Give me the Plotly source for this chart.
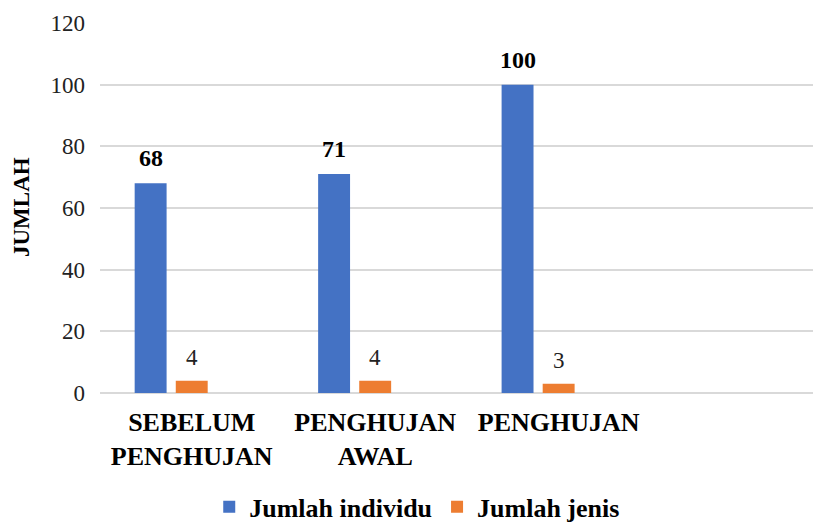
import plotly.graph_objects as go

categories = ["SEBELUM<br>PENGHUJAN", "PENGHUJAN<br>AWAL", "PENGHUJAN"]
individu = [68, 71, 100]
jenis = [4, 4, 3]
y_ticks = [0, 20, 40, 60, 80, 100, 120]

xpos = list(range(len(categories)))
FONT = "Liberation Serif"
BLUE = "#4472C4"
ORANGE = "#ED7D31"

fig = go.Figure()
fig.add_trace(go.Bar(x=xpos, y=individu, name="<b>Jumlah individu</b>", marker_color=BLUE,
                     width=0.174, offset=-0.311, marker_line_width=0))
fig.add_trace(go.Bar(x=xpos, y=jenis, name="<b>Jumlah jenis</b>", marker_color=ORANGE,
                     width=0.174, offset=-0.087, marker_line_width=0))

for i, v in enumerate(individu):
    fig.add_annotation(x=xpos[i] - 0.224, y=v, text=f"<b>{v}</b>", showarrow=False,
                       yanchor="bottom", yshift=10, font=dict(family=FONT, size=24, color="black"))
for i, v in enumerate(jenis):
    fig.add_annotation(x=xpos[i] + 0.0, y=v, text=str(v), showarrow=False,
                       yanchor="bottom", yshift=9, font=dict(family=FONT, size=23, color="#222"))

fig.add_annotation(xref="paper", yref="paper", x=(21 - 100) / 721, y=(393 - 207) / 370,
                   text="<b>JUMLAH</b>", textangle=-90, showarrow=False,
                   xanchor="center", yanchor="middle",
                   font=dict(family=FONT, size=23, color="black"))

fig.update_layout(
    width=821, height=525,
    margin=dict(l=92, r=8, t=15, b=140, autoexpand=False),
    plot_bgcolor="white", paper_bgcolor="white",
    barmode="overlay",
    font=dict(family=FONT, size=22, color="black"),
    xaxis=dict(tickmode="array", tickvals=xpos, ticktext=[f"<b>{c}</b>" for c in categories],
               range=[-0.5, 3.43], showgrid=False, zeroline=False, showline=False,
               tickfont=dict(family=FONT, size=26, color="black"), ticks="", automargin=False,
               ticklabelstandoff=11),
    yaxis=dict(range=[0, 120], tickvals=y_ticks, showgrid=True, gridcolor="#d9d9d9", gridwidth=1.5,
               zeroline=True, zerolinecolor="#d9d9d9", zerolinewidth=1.5, showline=False,
               tickfont=dict(family=FONT, size=23, color="#222"), ticks="", automargin=False,
               ticklabelstandoff=14),
    legend=dict(orientation="h", x=0.44, xanchor="center", y=-0.308, yanchor="middle",
                font=dict(family=FONT, size=26, color="black"), itemwidth=30),
    showlegend=True,
)
fig.write_html("out.html")
